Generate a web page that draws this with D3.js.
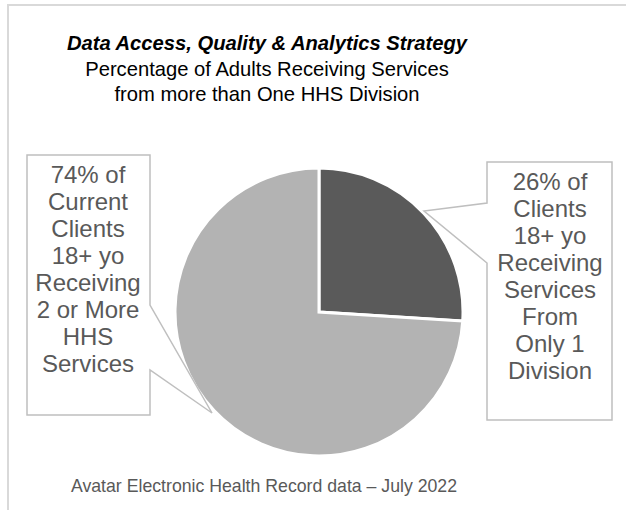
<!DOCTYPE html>
<html>
<head>
<meta charset="utf-8">
<script src="https://cdn.jsdelivr.net/npm/d3@7"></script>
<style>
  html, body { margin: 0; padding: 0; background: #fff; }
  svg { display: block; font-family: "Liberation Sans", Arial, sans-serif; }
</style>
</head>
<body>
<svg id="chart" width="626" height="510"></svg>
<script>
// Chart data
const categories = ["Only 1 Division", "2 or More HHS Services"];
const values = [26, 74];
const sliceColors = ["#5a5a5a", "#b3b3b3"];
const calloutLines = [
  ["26% of", "Clients", "18+ yo", "Receiving", "Services", "From", "Only 1", "Division"],
  ["74% of", "Current", "Clients", "18+ yo", "Receiving", "2 or More", "HHS", "Services"]
];
const titleLines = [
  "Data Access, Quality & Analytics Strategy",
  "Percentage of Adults Receiving Services",
  "from more than One HHS Division"
];
const footnote = "Avatar Electronic Health Record data \u2013 July 2022";

const svg = d3.select("#chart");

// Outer frame (runs off the right and bottom edges)
svg.append("rect")
  .attr("x", 8).attr("y", 5)
  .attr("width", 640).attr("height", 530)
  .attr("fill", "none")
  .attr("stroke", "#d9d9d9")
  .attr("stroke-width", 2);

// Titles
const titleX = 267;
svg.append("text")
  .attr("x", titleX).attr("y", 50)
  .attr("text-anchor", "middle")
  .attr("font-size", 20.2)
  .attr("font-weight", "bold")
  .attr("font-style", "italic")
  .attr("fill", "#000")
  .text(titleLines[0]);
titleLines.slice(1).forEach((t, i) => {
  svg.append("text")
    .attr("x", titleX).attr("y", 76 + i * 25)
    .attr("text-anchor", "middle")
    .attr("font-size", 20.2)
    .attr("fill", "#000")
    .text(t);
});

// Pie
const cx = 319, cy = 312, radius = 144;
const pie = d3.pie().sort(null).value(d => d.value);
const arc = d3.arc().innerRadius(0).outerRadius(radius);
const slices = pie(categories.map((c, i) => ({ name: c, value: values[i] })));

const g = svg.append("g").attr("transform", `translate(${cx},${cy})`);
g.selectAll("path.slice")
  .data(slices)
  .join("path")
  .attr("class", "slice")
  .attr("d", arc)
  .attr("fill", (d, i) => sliceColors[i])
  .attr("stroke", "#fff")
  .attr("stroke-width", 3)
  .attr("stroke-linejoin", "miter");

// Callout shapes: a box with a wedge pointing into the slice
const callouts = [
  { // right: 26%
    box: { x0: 487, y0: 162, x1: 612, y1: 420 },
    side: "left", w0: 203, w1: 263, tip: [424, 211],
    textX: 550, textY: 190
  },
  { // left: 74%
    box: { x0: 27, y0: 155, x1: 150, y1: 415 },
    side: "right", w0: 305, w1: 370, tip: [212, 413],
    textX: 88, textY: 183
  }
];

callouts.forEach((c, i) => {
  const b = c.box;
  const p = d3.path();
  if (c.side === "left") {
    p.moveTo(b.x0, b.y0);
    p.lineTo(b.x1, b.y0);
    p.lineTo(b.x1, b.y1);
    p.lineTo(b.x0, b.y1);
    p.lineTo(b.x0, c.w1);
    p.lineTo(c.tip[0], c.tip[1]);
    p.lineTo(b.x0, c.w0);
    p.closePath();
  } else {
    p.moveTo(b.x0, b.y0);
    p.lineTo(b.x1, b.y0);
    p.lineTo(b.x1, c.w0);
    p.lineTo(c.tip[0], c.tip[1]);
    p.lineTo(b.x1, c.w1);
    p.lineTo(b.x1, b.y1);
    p.lineTo(b.x0, b.y1);
    p.closePath();
  }
  svg.append("path")
    .attr("d", p.toString())
    .attr("fill", "#fff")
    .attr("stroke", "#bfbfbf")
    .attr("stroke-width", 1.5);

  const t = svg.append("text")
    .attr("text-anchor", "middle")
    .attr("font-size", 24)
    .attr("fill", "#595959");
  calloutLines[i].forEach((line, k) => {
    t.append("tspan")
      .attr("x", c.textX)
      .attr("y", c.textY + k * 27)
      .text(line);
  });
});

// Source note
svg.append("text")
  .attr("x", 264).attr("y", 492)
  .attr("text-anchor", "middle")
  .attr("font-size", 17.7)
  .attr("fill", "#595959")
  .text(footnote);
</script>
</body>
</html>
